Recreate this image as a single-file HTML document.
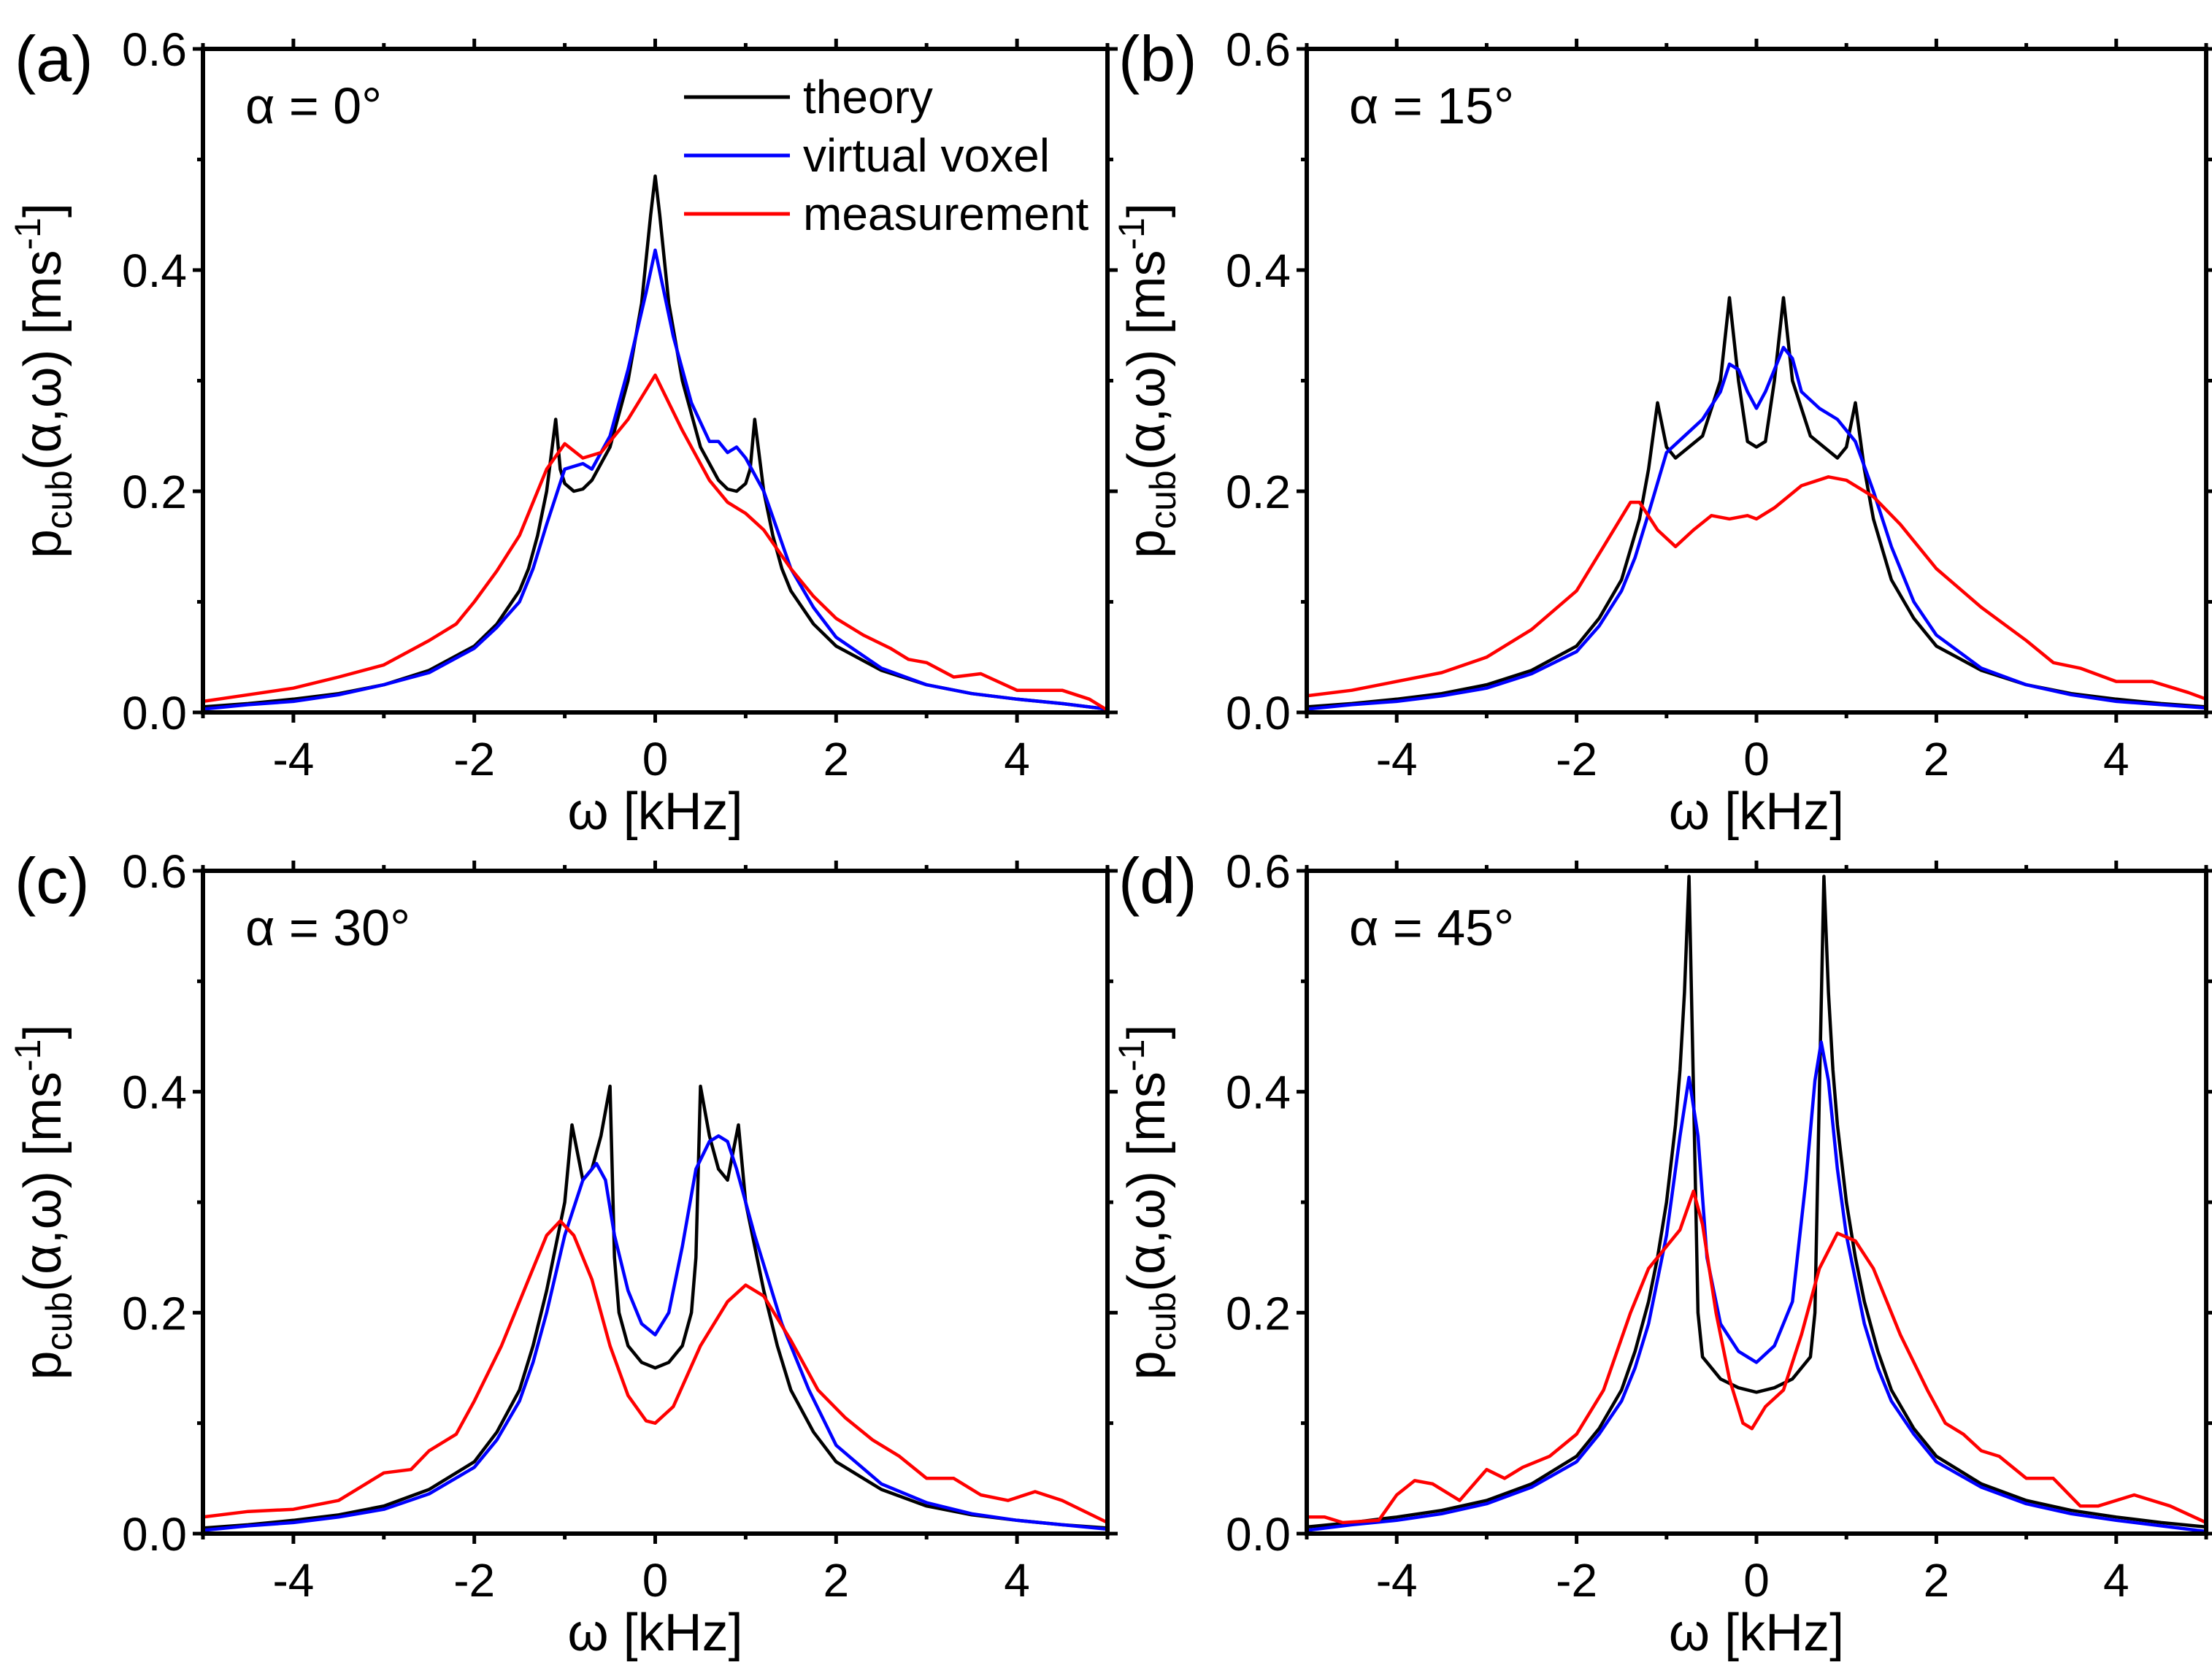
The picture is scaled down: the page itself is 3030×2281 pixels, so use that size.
<!DOCTYPE html>
<html><head><meta charset="utf-8"><style>
html,body{margin:0;padding:0;background:#fff;}
svg{display:block;font-family:"Liberation Sans Narrow","Liberation Sans",sans-serif;}
</style></head><body>
<svg id="fig" width="3030" height="2281" viewBox="0 0 3030 2281" xmlns="http://www.w3.org/2000/svg"></svg>
<script>
const NS="http://www.w3.org/2000/svg";
const xTicks=[-4,-2,0,2,4];
const yTicks=[0.0,0.2,0.4,0.6];
const yTickLabels=["0.0","0.2","0.4","0.6"];
const panelLabels=["(a)","(b)","(c)","(d)"];
const angleLabels=["α = 0°","α = 15°","α = 30°","α = 45°"];
const legendNames=["theory","virtual voxel","measurement"];
const colors=["#000000","#0000ff","#ff0000"];

// panel a
const aThX=[-5,-4.5,-4,-3.5,-3,-2.5,-2,-1.75,-1.5,-1.4,-1.3,-1.2,-1.1,-1.05,-1.0,-0.9,-0.8,-0.7,-0.5,-0.3,-0.15,-0.05,0,0.05,0.15,0.3,0.5,0.7,0.8,0.9,1.0,1.05,1.1,1.2,1.3,1.4,1.5,1.75,2,2.5,3,3.5,4,4.5,5];
const aThY=[0.005,0.008,0.012,0.017,0.025,0.038,0.06,0.08,0.11,0.13,0.16,0.2,0.265,0.22,0.207,0.2,0.202,0.21,0.24,0.3,0.37,0.45,0.485,0.45,0.37,0.3,0.24,0.21,0.202,0.2,0.207,0.22,0.265,0.2,0.16,0.13,0.11,0.08,0.06,0.038,0.025,0.017,0.012,0.008,0.003];
const aVvX=[-5,-4.5,-4,-3.5,-3,-2.5,-2,-1.75,-1.5,-1.35,-1.2,-1.0,-0.8,-0.7,-0.5,-0.3,-0.1,0,0.2,0.4,0.6,0.7,0.8,0.9,1.0,1.2,1.35,1.5,1.75,2,2.5,3,3.5,4,4.5,5];
const aVvY=[0.003,0.007,0.01,0.016,0.025,0.036,0.058,0.077,0.1,0.13,0.17,0.22,0.225,0.22,0.25,0.31,0.38,0.418,0.34,0.28,0.245,0.245,0.235,0.24,0.23,0.2,0.165,0.13,0.095,0.068,0.04,0.025,0.017,0.012,0.008,0.003];
const aMeX=[-5,-4.5,-4,-3.5,-3,-2.5,-2.2,-2,-1.75,-1.5,-1.35,-1.2,-1.0,-0.8,-0.6,-0.3,0,0.3,0.6,0.8,1.0,1.2,1.5,1.75,2,2.3,2.6,2.8,3,3.3,3.6,4,4.5,4.8,5];
const aMeY=[0.01,0.016,0.022,0.032,0.043,0.065,0.08,0.1,0.128,0.16,0.19,0.22,0.243,0.23,0.235,0.265,0.305,0.255,0.21,0.19,0.18,0.165,0.13,0.105,0.085,0.07,0.058,0.048,0.045,0.032,0.035,0.02,0.02,0.012,0.002];
// panel b
const bThX=[-5,-4.5,-4,-3.5,-3,-2.5,-2,-1.75,-1.5,-1.3,-1.2,-1.1,-1.0,-0.9,-0.6,-0.4,-0.3,-0.2,-0.1,0,0.1,0.2,0.3,0.4,0.6,0.9,1.0,1.1,1.2,1.3,1.5,1.75,2,2.5,3,3.5,4,4.5,5];
const bThY=[0.005,0.008,0.012,0.017,0.025,0.038,0.06,0.085,0.12,0.175,0.22,0.28,0.24,0.23,0.25,0.3,0.375,0.3,0.245,0.24,0.245,0.3,0.375,0.3,0.25,0.23,0.24,0.28,0.22,0.175,0.12,0.085,0.06,0.038,0.025,0.017,0.012,0.008,0.005];
const bVvX=[-5,-4.5,-4,-3.5,-3,-2.5,-2,-1.75,-1.5,-1.35,-1.2,-1.0,-0.8,-0.6,-0.4,-0.3,-0.2,-0.1,0,0.1,0.3,0.4,0.5,0.7,0.9,1.1,1.3,1.5,1.75,2,2.5,3,3.5,4,4.5,5];
const bVvY=[0.003,0.007,0.01,0.015,0.022,0.035,0.055,0.078,0.11,0.14,0.18,0.235,0.25,0.265,0.29,0.315,0.31,0.29,0.275,0.29,0.33,0.32,0.29,0.275,0.265,0.245,0.2,0.15,0.1,0.07,0.04,0.025,0.016,0.01,0.007,0.004];
const bMeX=[-5,-4.5,-4,-3.5,-3,-2.5,-2,-1.7,-1.4,-1.3,-1.1,-0.9,-0.7,-0.5,-0.3,-0.1,0,0.2,0.5,0.8,1.0,1.3,1.6,2,2.5,3,3.3,3.6,4,4.4,4.8,5];
const bMeY=[0.015,0.02,0.028,0.036,0.05,0.075,0.11,0.15,0.19,0.19,0.165,0.15,0.165,0.178,0.175,0.178,0.175,0.185,0.205,0.213,0.21,0.195,0.17,0.13,0.095,0.065,0.045,0.04,0.028,0.028,0.018,0.012];
// panel c
const cThX=[-5,-4.5,-4,-3.5,-3,-2.5,-2,-1.75,-1.5,-1.35,-1.2,-1.0,-0.92,-0.8,-0.7,-0.6,-0.5,-0.45,-0.4,-0.3,-0.15,0,0.15,0.3,0.4,0.45,0.5,0.6,0.7,0.8,0.92,1.0,1.2,1.35,1.5,1.75,2,2.5,3,3.5,4,4.5,5];
const cThY=[0.005,0.008,0.012,0.017,0.025,0.04,0.065,0.092,0.13,0.17,0.22,0.3,0.37,0.32,0.33,0.36,0.405,0.25,0.2,0.17,0.155,0.15,0.155,0.17,0.2,0.25,0.405,0.36,0.33,0.32,0.37,0.3,0.22,0.17,0.13,0.092,0.065,0.04,0.025,0.017,0.012,0.008,0.005];
const cVvX=[-5,-4.5,-4,-3.5,-3,-2.5,-2,-1.75,-1.5,-1.35,-1.2,-1.0,-0.8,-0.65,-0.55,-0.45,-0.3,-0.15,0,0.15,0.3,0.45,0.6,0.7,0.8,0.9,1.1,1.25,1.4,1.7,2,2.5,3,3.5,4,4.5,5];
const cVvY=[0.003,0.007,0.01,0.015,0.022,0.036,0.06,0.085,0.12,0.155,0.2,0.27,0.32,0.335,0.32,0.27,0.22,0.19,0.18,0.2,0.26,0.33,0.355,0.36,0.355,0.33,0.27,0.23,0.19,0.13,0.08,0.045,0.028,0.018,0.012,0.008,0.004];
const cMeX=[-5,-4.5,-4,-3.5,-3,-2.7,-2.5,-2.2,-2,-1.7,-1.4,-1.2,-1.05,-0.9,-0.7,-0.5,-0.3,-0.1,0,0.2,0.5,0.8,1.0,1.2,1.5,1.8,2.1,2.4,2.7,3,3.3,3.6,3.9,4.2,4.5,5];
const cMeY=[0.015,0.02,0.022,0.03,0.055,0.058,0.075,0.09,0.12,0.17,0.23,0.27,0.283,0.27,0.23,0.17,0.125,0.102,0.1,0.115,0.17,0.21,0.225,0.215,0.175,0.13,0.105,0.085,0.07,0.05,0.05,0.035,0.03,0.038,0.03,0.01];
// panel d
const dThX=[-5,-4.5,-4,-3.5,-3,-2.5,-2,-1.75,-1.5,-1.35,-1.2,-1.1,-1.0,-0.9,-0.85,-0.8,-0.75,-0.7,-0.65,-0.6,-0.4,-0.2,0,0.2,0.4,0.6,0.65,0.7,0.75,0.8,0.85,0.9,1.0,1.1,1.2,1.35,1.5,1.75,2,2.5,3,3.5,4,4.5,5];
const dThY=[0.006,0.01,0.015,0.021,0.03,0.045,0.07,0.095,0.13,0.165,0.21,0.25,0.3,0.37,0.42,0.49,0.595,0.4,0.2,0.16,0.14,0.132,0.128,0.132,0.14,0.16,0.2,0.4,0.595,0.49,0.42,0.37,0.3,0.25,0.21,0.165,0.13,0.095,0.07,0.045,0.03,0.021,0.015,0.01,0.006];
const dVvX=[-5,-4.5,-4,-3.5,-3,-2.5,-2,-1.75,-1.5,-1.35,-1.2,-1.0,-0.85,-0.75,-0.65,-0.55,-0.4,-0.2,0,0.2,0.4,0.55,0.65,0.72,0.8,0.9,1.0,1.2,1.35,1.5,1.75,2,2.5,3,3.5,4,4.5,5];
const dVvY=[0.003,0.008,0.012,0.018,0.027,0.042,0.065,0.09,0.12,0.15,0.19,0.27,0.36,0.413,0.36,0.25,0.19,0.165,0.155,0.17,0.21,0.32,0.41,0.445,0.41,0.33,0.27,0.19,0.15,0.12,0.09,0.065,0.042,0.027,0.018,0.012,0.007,0.002];
const dMeX=[-5,-4.8,-4.6,-4.2,-4,-3.8,-3.6,-3.3,-3,-2.8,-2.6,-2.3,-2.0,-1.7,-1.4,-1.2,-1.0,-0.85,-0.7,-0.6,-0.45,-0.3,-0.15,-0.05,0.1,0.3,0.5,0.7,0.9,1.1,1.3,1.6,1.9,2.1,2.3,2.5,2.7,3,3.3,3.6,3.8,4.2,4.6,5];
const dMeY=[0.015,0.015,0.01,0.012,0.035,0.048,0.045,0.03,0.058,0.05,0.06,0.07,0.09,0.13,0.2,0.24,0.26,0.275,0.31,0.28,0.2,0.14,0.1,0.095,0.115,0.13,0.18,0.24,0.272,0.265,0.24,0.18,0.13,0.1,0.09,0.075,0.07,0.05,0.05,0.025,0.025,0.035,0.025,0.01];

const panels=[
 {x0:278,x1:1517,y0:67,y1:976,series:[[aThX,aThY],[aVvX,aVvY],[aMeX,aMeY]],legend:true},
 {x0:1790,x1:3022,y0:67,y1:976,series:[[bThX,bThY],[bVvX,bVvY],[bMeX,bMeY]]},
 {x0:278,x1:1517,y0:1193,y1:2101,series:[[cThX,cThY],[cVvX,cVvY],[cMeX,cMeY]]},
 {x0:1790,x1:3022,y0:1193,y1:2101,series:[[dThX,dThY],[dVvX,dVvY],[dMeX,dMeY]]}
];
const svg=document.getElementById('fig');
function mk(tag,attrs,parent,text){const e=document.createElementNS(NS,tag);for(const k in attrs)e.setAttribute(k,attrs[k]);if(text!==undefined)e.textContent=text;(parent||svg).appendChild(e);return e;}

panels.forEach((p,i)=>{
 const g=mk('g',{});
 
 
 const sx=v=>p.x0+(v+5)/10*(p.x1-p.x0);
 const sy=v=>p.y1-v/0.6*(p.y1-p.y0);
 const clip=mk('clipPath',{id:'clip'+i},g);
 mk('rect',{x:p.x0,y:p.y0,width:p.x1-p.x0,height:p.y1-p.y0},clip);
 p.series.forEach((s,k)=>{
  const pts=s[0].map((x,j)=>sx(x).toFixed(1)+','+sy(s[1][j]).toFixed(1)).join(' ');
  const pl=mk('polyline',{points:pts,fill:'none',stroke:colors[k],'stroke-width':4.5,'stroke-linejoin':'round','clip-path':'url(#clip'+i+')'},g);
  
  
 });
 const fr=mk('rect',{x:p.x0,y:p.y0,width:p.x1-p.x0,height:p.y1-p.y0,fill:'none',stroke:'#000','stroke-width':6},g);
 
 
 for(let v=-5;v<=5;v++){
  const L=(v%2===0)?14:8;const X=sx(v);
  mk('line',{x1:X,x2:X,y1:p.y1,y2:p.y1+L,stroke:'#000','stroke-width':5},g);
  mk('line',{x1:X,x2:X,y1:p.y0,y2:p.y0-L,stroke:'#000','stroke-width':5},g);
 }
 xTicks.forEach(v=>{
  const t=mk('text',{x:sx(v),y:p.y1+86,'font-size':64,'text-anchor':'middle'},g,String(v));
  
  
 });
 for(let k=0;k<=6;k++){
  const v=k*0.1;const L=(k%2===0)?14:8;const Y=sy(v);
  mk('line',{x1:p.x0,x2:p.x0-L,y1:Y,y2:Y,stroke:'#000','stroke-width':5},g);
  mk('line',{x1:p.x1,x2:p.x1+L,y1:Y,y2:Y,stroke:'#000','stroke-width':5},g);
 }
 yTicks.forEach((v,k)=>{
  const t=mk('text',{x:p.x0-22,y:sy(v)+23,'font-size':64,'text-anchor':'end'},g,yTickLabels[k]);
  
  
 });
 const xt=mk('text',{x:(p.x0+p.x1)/2,y:p.y1+160,'font-size':72,'text-anchor':'middle'},g,'ω [kHz]');
 
 
 const yx=p.x0-195, yy=(p.y0+p.y1)/2;
 const yt=mk('text',{x:yx,y:yy,'font-size':72,'text-anchor':'middle',transform:'rotate(-90 '+yx+' '+yy+')'},g);
 
 
 mk('tspan',{},yt,'p');
 mk('tspan',{'font-size':50,dy:15},yt,'cub');
 mk('tspan',{dy:-15},yt,'(α,ω) [ms');
 mk('tspan',{'font-size':50,dy:-28},yt,'-1');
 mk('tspan',{dy:28},yt,']');
 const pl=mk('text',{x:p.x0-258,y:p.y0+44,'font-size':88},g,panelLabels[i]);
 
 
 const al=mk('text',{x:p.x0+58,y:p.y0+102,'font-size':70},g,angleLabels[i]);
 
 
 if(p.legend){
  legendNames.forEach((n,k)=>{
   const Y=p.y0+66+k*80;
   const lg=mk('g',{},g);
   
   
   mk('line',{x1:937,x2:1082,y1:Y,y2:Y,stroke:colors[k],'stroke-width':5},lg);
   mk('text',{x:1100,y:Y+22,'font-size':64},lg,n);
  });
 }
});
</script>
</body></html>
